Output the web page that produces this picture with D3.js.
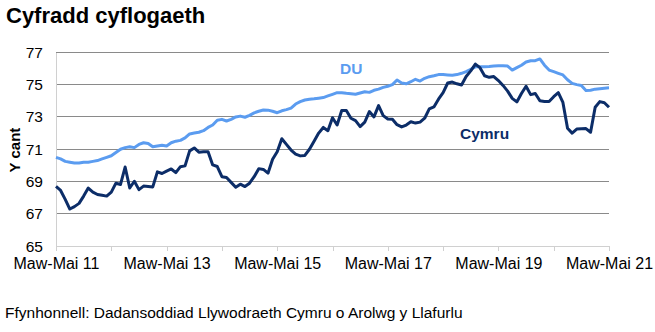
<!DOCTYPE html>
<html><head><meta charset="utf-8">
<script src="https://cdn.jsdelivr.net/npm/d3@7"></script>
<style>
html,body{margin:0;padding:0;background:#fff;}
svg{display:block;font-family:"Liberation Sans",Arial,sans-serif;}
</style></head>
<body><svg id="c" width="655" height="332"></svg>
<script>
// Rolling quarters, Mar-May 2011 .. Mar-May 2021 (monthly steps)
const tickLabels = ["Maw-Mai 11","Maw-Mai 13","Maw-Mai 15","Maw-Mai 17","Maw-Mai 19","Maw-Mai 21"];
const yTicks = [65,67,69,71,73,75,77];
const du = [70.5,70.4,70.25,70.2,70.15,70.15,70.2,70.2,70.25,70.3,70.4,70.5,70.6,70.8,71.0,71.1,71.15,71.1,71.3,71.4,
71.35,71.15,71.2,71.25,71.2,71.4,71.5,71.55,71.7,71.95,72.0,72.05,72.15,72.35,72.5,72.8,72.85,72.75,72.85,73.0,
73.05,72.98,73.1,73.25,73.35,73.43,73.42,73.35,73.26,73.38,73.45,73.55,73.8,73.95,74.05,74.1,74.12,74.16,74.2,74.3,
74.4,74.5,74.5,74.46,74.43,74.4,74.48,74.56,74.52,74.65,74.72,74.83,74.9,75.0,75.29,75.1,75.05,75.18,75.33,75.22,
75.39,75.49,75.55,75.62,75.62,75.6,75.58,75.62,75.7,75.8,75.95,76.1,76.11,76.11,76.12,76.15,76.17,76.17,76.15,75.9,
76.05,76.2,76.4,76.48,76.48,76.59,76.2,75.9,75.8,75.7,75.6,75.3,75.08,75.0,74.95,74.63,74.65,74.72,74.75,74.78,74.8];
const cymru = [68.7,68.45,67.9,67.3,67.45,67.65,68.1,68.6,68.35,68.2,68.15,68.1,68.35,68.9,68.82,69.9,68.6,69.02,68.5,68.72,
68.7,68.67,69.6,69.5,69.65,69.78,69.55,69.92,69.97,70.9,71.08,70.82,70.84,70.85,70.03,69.93,69.3,69.25,68.95,68.65,
68.84,68.69,68.9,69.3,69.8,69.75,69.52,70.38,70.85,71.65,71.3,70.95,70.7,70.59,70.62,71.0,71.5,72.0,72.35,72.15,
72.95,72.5,73.4,73.4,72.92,72.77,72.4,72.68,73.33,73.0,73.7,73.08,72.87,72.86,72.52,72.38,72.5,72.7,72.62,72.68,
72.92,73.5,73.62,74.1,74.5,75.1,75.16,75.05,74.98,75.5,75.85,76.27,76.05,75.55,75.45,75.5,75.25,74.95,74.6,74.15,
73.93,74.45,74.9,74.38,74.45,74.0,73.96,73.95,74.25,74.5,73.9,72.3,72.0,72.25,72.27,72.28,72.05,73.6,73.95,73.88,73.6];

const svg = d3.select("#c");
const mLeft = 56, mRight = 609, mTop = 52.3, mBottom = 246.2;
const x = d3.scaleLinear().domain([0, du.length - 1]).range([mLeft, mRight]);
const y = d3.scaleLinear().domain([65, 77]).range([mBottom, mTop]);

// gridlines
svg.append("g").selectAll("line").data(yTicks.filter(v => v > 65)).join("line")
  .attr("x1", mLeft).attr("x2", mRight)
  .attr("y1", d => y(d)).attr("y2", d => y(d))
  .attr("stroke", "#8a8a8a").attr("stroke-width", 1).attr("shape-rendering","crispEdges");

// y axis
const yAxis = svg.append("g").attr("transform", `translate(${mLeft},0)`)
  .call(d3.axisLeft(y).tickValues(yTicks).tickSize(0).tickPadding(13));
yAxis.select(".domain").attr("stroke", "#d0d0d0").attr("shape-rendering","crispEdges");
yAxis.selectAll("text").attr("font-size", 15.5).attr("fill", "#000").attr("font-family","Liberation Sans, Arial, sans-serif");

// x axis
const monthTicks = d3.range(0, du.length, 12);
const xAxis = svg.append("g").attr("transform", `translate(0,${mBottom})`)
  .call(d3.axisBottom(x).tickValues(monthTicks).tickSizeInner(5).tickSizeOuter(0).tickPadding(6)
    .tickFormat((d, i) => i % 2 === 0 ? tickLabels[i / 2] : ""));
xAxis.select(".domain").attr("stroke", "#d0d0d0").attr("shape-rendering","crispEdges");
xAxis.selectAll(".tick line").attr("stroke", "#d0d0d0").attr("shape-rendering","crispEdges");
xAxis.selectAll("text").attr("font-size", 16).attr("fill", "#000").attr("font-family","Liberation Sans, Arial, sans-serif");

// lines
const line = d3.line().x((d, i) => x(i)).y(d => y(d));
svg.append("path").datum(du).attr("d", line).attr("fill", "none")
  .attr("stroke", "#5b9cf0").attr("stroke-width", 3).attr("stroke-linejoin", "round");
svg.append("path").datum(cymru).attr("d", line).attr("fill", "none")
  .attr("stroke", "#0c2d68").attr("stroke-width", 3).attr("stroke-linejoin", "round");

// series labels
svg.append("text").attr("x", 340).attr("y", 74).attr("font-size", 15.5).attr("font-weight", "bold")
  .attr("fill", "#5b9cf0").text("DU");
svg.append("text").attr("x", 460).attr("y", 138.5).attr("font-size", 15.5).attr("font-weight", "bold")
  .attr("fill", "#0c2d68").text("Cymru");

// title
svg.append("text").attr("x", 6).attr("y", 23).attr("font-size", 22).attr("font-weight", "bold")
  .attr("fill", "#000").text("Cyfradd cyflogaeth");

// y label
svg.append("text").attr("transform", "translate(20,150) rotate(-90)").attr("text-anchor", "middle")
  .attr("font-size", 15).attr("font-weight", "bold").attr("fill", "#000").text("Y cant");

// source
svg.append("text").attr("x", 5).attr("y", 318).attr("font-size", 15.5).attr("fill", "#000")
  .text("Ffynhonnell: Dadansoddiad Llywodraeth Cymru o Arolwg y Llafurlu");
</script></body></html>
